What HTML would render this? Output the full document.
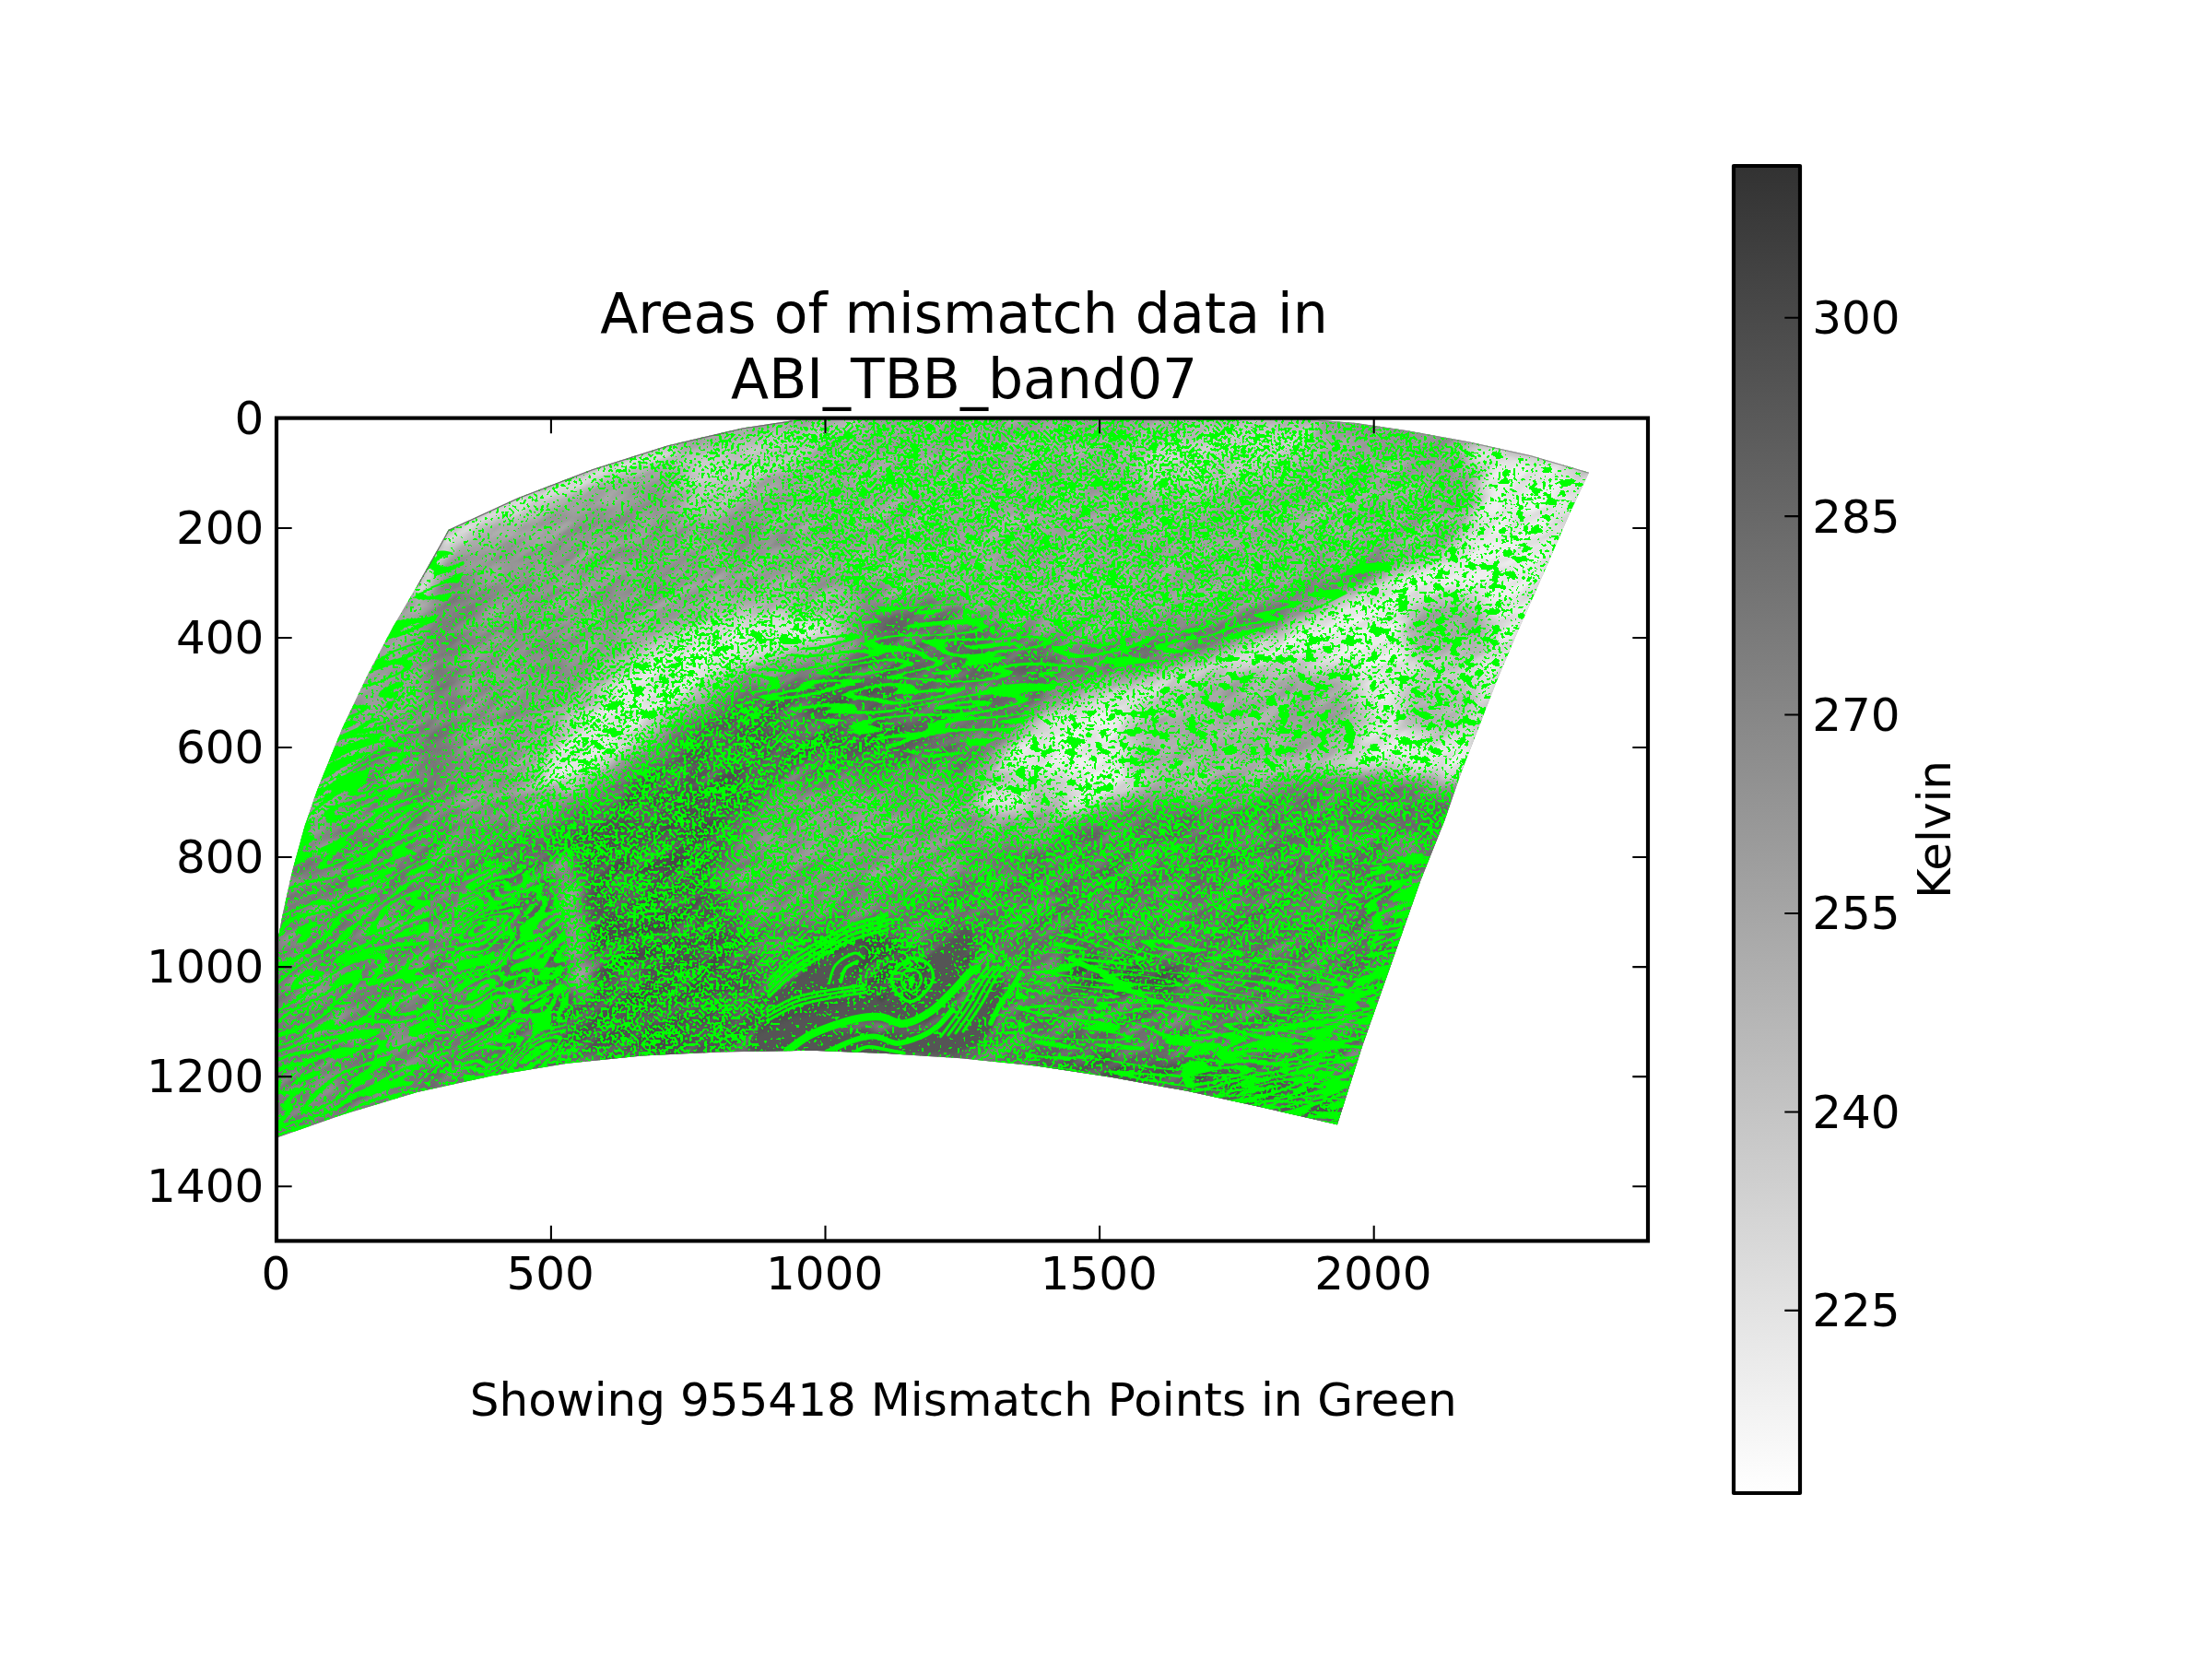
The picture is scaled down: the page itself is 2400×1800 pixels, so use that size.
<!DOCTYPE html>
<html lang="en"><head><meta charset="utf-8"><title>Areas of mismatch data in ABI_TBB_band07</title>
<style>
html,body{margin:0;padding:0;background:#fff;}
body{width:2400px;height:1800px;overflow:hidden;}
svg{display:block;}
text{font-family:"DejaVu Sans","Liberation Sans",sans-serif;fill:#000;}
.t{font-size:50px;}
.ti{font-size:60px;}
</style></head><body>
<svg width="2400" height="1800" viewBox="0 0 2400 1800">
<rect width="2400" height="1800" fill="#fff"/>
<defs>
<clipPath id="axc"><rect x="300.0" y="453.6" width="1488.0" height="892.8000000000001"/></clipPath>
<clipPath id="sw"><path d="M486.6 574.8L561.2 540.4L642.6 509.2L724.0 483.4L805.3 464.4L859.6 456.3L900.0 451.0L1400.0 451.0L1430.5 455.7L1471.2 459.0L1525.5 467.1L1593.3 479.3L1661.1 494.2L1724.0 512.7L1704.5 553.9L1685.5 597.3L1666.5 640.7L1644.8 689.5L1623.1 741.1L1604.1 789.9L1585.1 838.7L1567.5 890.0L1541.1 955.9L1507.3 1052.3L1478.4 1134.3L1450.9 1220.2L1368.2 1201.2L1286.8 1183.6L1205.5 1168.7L1124.1 1156.5L1042.7 1148.3L961.4 1142.9L880.0 1139.7L778.2 1141.6L696.8 1145.6L615.5 1153.8L534.1 1167.3L452.7 1185.0L371.4 1209.4L302.2 1233.8L290.0 1238.0L290.0 1060.0L302.2 1015.4L306.3 993.7L317.1 944.9L330.7 896.1L344.2 857.0L371.4 789.9L398.5 732.9L425.6 681.4L452.7 635.3L477.1 591.9Z"/></clipPath>
<filter id="b2" x="280" y="440" width="1480" height="820" filterUnits="userSpaceOnUse"><feGaussianBlur stdDeviation="2"/></filter>
<filter id="b5" x="280" y="440" width="1480" height="820" filterUnits="userSpaceOnUse"><feGaussianBlur stdDeviation="5"/></filter>
<filter id="b6" x="280" y="440" width="1480" height="820" filterUnits="userSpaceOnUse"><feGaussianBlur stdDeviation="6"/></filter>
<filter id="b8" x="280" y="440" width="1480" height="820" filterUnits="userSpaceOnUse"><feGaussianBlur stdDeviation="8"/></filter>
<filter id="b10" x="280" y="440" width="1480" height="820" filterUnits="userSpaceOnUse"><feGaussianBlur stdDeviation="10"/></filter>
<filter id="b12" x="280" y="440" width="1480" height="820" filterUnits="userSpaceOnUse"><feGaussianBlur stdDeviation="12"/></filter>
<filter id="b14" x="280" y="440" width="1480" height="820" filterUnits="userSpaceOnUse"><feGaussianBlur stdDeviation="14"/></filter>
<filter id="b16" x="280" y="440" width="1480" height="820" filterUnits="userSpaceOnUse"><feGaussianBlur stdDeviation="16"/></filter>
<filter id="b18" x="280" y="440" width="1480" height="820" filterUnits="userSpaceOnUse"><feGaussianBlur stdDeviation="18"/></filter>
<filter id="b22" x="280" y="440" width="1480" height="820" filterUnits="userSpaceOnUse"><feGaussianBlur stdDeviation="22"/></filter>
<filter id="b30" x="280" y="440" width="1480" height="820" filterUnits="userSpaceOnUse"><feGaussianBlur stdDeviation="30"/></filter>
<filter id="sp1" x="280" y="440" width="1480" height="820" filterUnits="userSpaceOnUse" color-interpolation-filters="sRGB">
<feGaussianBlur in="SourceGraphic" stdDeviation="9" result="sb"/>
<feColorMatrix in="sb" type="matrix" values="0 0 0 0 0  0 0 0 0 0  0 0 0 0 0  1 0 0 0 0" result="src"/>
<feTurbulence type="fractalNoise" baseFrequency="0.31" numOctaves="1" seed="5" result="n"/>
<feColorMatrix in="n" type="matrix" values="0 0 0 0 0  0 0 0 0 0  0 0 0 0 0  1 0 0 0 0" result="n1"/>
<feTurbulence type="fractalNoise" baseFrequency="0.035 0.06" numOctaves="2" seed="8" result="m"/>
<feColorMatrix in="m" type="matrix" values="0 0 0 0 0  0 0 0 0 0  0 0 0 0 0  1 0 0 0 0" result="m1"/>
<feComposite in="n1" in2="m1" operator="arithmetic" k1="0" k2="1" k3="0.3" k4="-0.15" result="nm"/>
<feComposite in="src" in2="nm" operator="arithmetic" k1="0" k2="1" k3="-1" k4="0" result="d"/>
<feComponentTransfer in="d" result="t"><feFuncA type="linear" slope="255" intercept="0"/></feComponentTransfer>
<feFlood flood-color="#00ff00" result="g"/>
<feComposite in="g" in2="t" operator="in"/>
</filter>
<filter id="tex" x="0" y="0" width="2100" height="1700" filterUnits="userSpaceOnUse" color-interpolation-filters="sRGB">
<feTurbulence type="fractalNoise" baseFrequency="0.02 0.07" numOctaves="2" seed="4" result="n"/>
<feColorMatrix in="n" type="matrix" values="0 0 0 0 1  0 0 0 0 1  0 0 0 0 1  2.5 0 0 0 -1.0" result="w"/>
<feComposite in="w" in2="SourceGraphic" operator="in"/>
</filter>
<filter id="texd" x="0" y="0" width="2100" height="1700" filterUnits="userSpaceOnUse" color-interpolation-filters="sRGB">
<feTurbulence type="fractalNoise" baseFrequency="0.025 0.07" numOctaves="2" seed="21" result="n"/>
<feColorMatrix in="n" type="matrix" values="0 0 0 0 0  0 0 0 0 0  0 0 0 0 0  2.5 0 0 0 -1.0" result="w"/>
<feComposite in="w" in2="SourceGraphic" operator="in"/>
</filter>
<filter id="sp2" x="280" y="440" width="1480" height="820" filterUnits="userSpaceOnUse" color-interpolation-filters="sRGB">
<feGaussianBlur in="SourceGraphic" stdDeviation="9" result="sb"/>
<feColorMatrix in="sb" type="matrix" values="0 0 0 0 0  0 0 0 0 0  0 0 0 0 0  1 0 0 0 0" result="src"/>
<feTurbulence type="fractalNoise" baseFrequency="0.07 0.1" numOctaves="3" seed="3" result="n"/>
<feColorMatrix in="n" type="matrix" values="0 0 0 0 0  0 0 0 0 0  0 0 0 0 0  1 0 0 0 0" result="n1"/>
<feComposite in="src" in2="n1" operator="arithmetic" k1="0" k2="1" k3="-1" k4="0" result="d"/>
<feComponentTransfer in="d" result="t"><feFuncA type="linear" slope="255" intercept="0"/></feComponentTransfer>
<feFlood flood-color="#00ff00" result="g"/>
<feComposite in="g" in2="t" operator="in"/>
</filter>
<clipPath id="bc0"><path d="M463.6 602.7C476.7 591.4 503.8 600.0 504.3 613.6C504.7 627.2 480.3 656.5 466.3 684.1C452.3 711.7 435.6 742.9 420.2 779.1C404.8 815.2 391.3 880.8 374.1 901.1C356.9 921.5 317.6 919.7 317.1 901.1C316.7 882.6 353.3 826.5 371.4 789.9C389.5 753.3 410.3 712.6 425.6 681.4C441.0 650.2 450.5 614.0 463.6 602.7Z"/></clipPath>
<filter id="bd0" x="-400" y="-400" width="2800" height="2400" filterUnits="userSpaceOnUse" color-interpolation-filters="sRGB">
<feTurbulence type="fractalNoise" baseFrequency="0.01 0.05" numOctaves="2" seed="3" result="n"/>
<feColorMatrix in="n" type="matrix" values="0 0 0 0 0  0 0 0 0 0  0 0 0 0 0  1 0 0 0 0" result="n1"/>
<feComponentTransfer in="n1" result="t"><feFuncA type="discrete" tableValues="0 0 1 0 0 1 0 0 1"/></feComponentTransfer>
<feFlood flood-color="#00ff00" result="g"/>
<feComposite in="g" in2="t" operator="in"/>
</filter>
<clipPath id="bc1"><path d="M276.9 815.0C296.1 738.1 361.4 776.6 392.1 784.3C422.9 791.9 449.1 822.7 461.3 861.1C473.5 899.5 466.4 963.6 465.1 1014.8C463.9 1066.1 485.0 1130.1 453.6 1168.5C422.2 1206.9 306.3 1304.3 276.9 1245.4C247.4 1186.5 257.6 891.9 276.9 815.0Z"/></clipPath>
<filter id="bd1" x="-400" y="-400" width="2800" height="2400" filterUnits="userSpaceOnUse" color-interpolation-filters="sRGB">
<feTurbulence type="fractalNoise" baseFrequency="0.008 0.035" numOctaves="2" seed="7" result="n"/>
<feColorMatrix in="n" type="matrix" values="0 0 0 0 0  0 0 0 0 0  0 0 0 0 0  1 0 0 0 0" result="n1"/>
<feComponentTransfer in="n1" result="t"><feFuncA type="discrete" tableValues="0 0 1 0 0 1 0 0 1 0 0 1 0 0 1 0 0 1"/></feComponentTransfer>
<feFlood flood-color="#00ff00" result="g"/>
<feComposite in="g" in2="t" operator="in"/>
</filter>
<clipPath id="bc2"><path d="M500.0 960.0C509.2 921.7 541.7 935.0 560.0 940.0C578.3 945.0 602.5 955.0 610.0 990.0C617.5 1025.0 622.5 1120.0 605.0 1150.0C587.5 1180.0 522.5 1201.7 505.0 1170.0C487.5 1138.3 490.8 998.3 500.0 960.0Z"/></clipPath>
<filter id="bd2" x="-400" y="-400" width="2800" height="2400" filterUnits="userSpaceOnUse" color-interpolation-filters="sRGB">
<feTurbulence type="fractalNoise" baseFrequency="0.012 0.03" numOctaves="2" seed="11" result="n"/>
<feColorMatrix in="n" type="matrix" values="0 0 0 0 0  0 0 0 0 0  0 0 0 0 0  1 0 0 0 0" result="n1"/>
<feComponentTransfer in="n1" result="t"><feFuncA type="discrete" tableValues="0 1 0 1 0 1 0 1 0 1 0 1 0 1 0 1 0 1 0 1"/></feComponentTransfer>
<feFlood flood-color="#00ff00" result="g"/>
<feComposite in="g" in2="t" operator="in"/>
</filter>
<clipPath id="bc3"><path d="M1483.2 946.3C1494.5 927.8 1542.7 918.1 1550.7 931.8C1558.8 945.5 1546.7 980.0 1531.4 1028.2C1516.2 1076.5 1497.7 1193.8 1459.1 1221.1C1420.5 1248.4 1326.5 1207.4 1300.0 1192.2C1273.5 1176.9 1279.9 1144.0 1300.0 1129.5C1320.1 1115.0 1390.0 1119.8 1420.5 1105.4C1451.1 1090.9 1472.8 1069.2 1483.2 1042.7C1493.7 1016.2 1472.0 964.8 1483.2 946.3Z"/></clipPath>
<filter id="bd3" x="-400" y="-400" width="2800" height="2400" filterUnits="userSpaceOnUse" color-interpolation-filters="sRGB">
<feTurbulence type="fractalNoise" baseFrequency="0.006 0.04" numOctaves="2" seed="13" result="n"/>
<feColorMatrix in="n" type="matrix" values="0 0 0 0 0  0 0 0 0 0  0 0 0 0 0  1 0 0 0 0" result="n1"/>
<feComponentTransfer in="n1" result="t"><feFuncA type="discrete" tableValues="0 1 0 1 0 1 0 1 0 1 0 1 0 1 0 1 0 1"/></feComponentTransfer>
<feFlood flood-color="#00ff00" result="g"/>
<feComposite in="g" in2="t" operator="in"/>
</filter>
<clipPath id="bc4"><path d="M858.0 711.0C878.3 699.0 898.8 680.0 926.0 670.0C953.2 660.0 991.5 648.7 1021.0 651.0C1050.5 653.3 1071.3 676.2 1103.0 684.0C1134.7 691.8 1169.8 701.7 1211.0 698.0C1252.2 694.3 1315.2 671.7 1350.0 662.0C1384.8 652.3 1395.0 650.3 1420.0 640.0C1445.0 629.7 1485.0 604.2 1500.0 600.0C1515.0 595.8 1521.7 605.0 1510.0 615.0C1498.3 625.0 1456.7 647.5 1430.0 660.0C1403.3 672.5 1377.5 680.8 1350.0 690.0C1322.5 699.2 1297.2 707.0 1265.0 715.0C1232.8 723.0 1184.0 725.5 1157.0 738.0C1130.0 750.5 1125.7 776.0 1103.0 790.0C1080.3 804.0 1048.2 820.3 1021.0 822.0C993.8 823.7 967.2 808.7 940.0 800.0C912.8 791.3 880.7 779.7 858.0 770.0C835.3 760.3 804.0 751.8 804.0 742.0C804.0 732.2 837.7 723.0 858.0 711.0Z"/></clipPath>
<filter id="bd4" x="-400" y="-400" width="2800" height="2400" filterUnits="userSpaceOnUse" color-interpolation-filters="sRGB">
<feTurbulence type="fractalNoise" baseFrequency="0.006 0.04" numOctaves="2" seed="17" result="n"/>
<feColorMatrix in="n" type="matrix" values="0 0 0 0 0  0 0 0 0 0  0 0 0 0 0  1 0 0 0 0" result="n1"/>
<feComponentTransfer in="n1" result="t"><feFuncA type="discrete" tableValues="0 0 1 0 0 1 0 0 1 0 0 1 0 0 1 0 0 1"/></feComponentTransfer>
<feFlood flood-color="#00ff00" result="g"/>
<feComposite in="g" in2="t" operator="in"/>
</filter>
<clipPath id="bc5"><path d="M1123.9 1022.0C1159.7 999.4 1276.4 1020.6 1338.7 1029.9C1401.1 1039.2 1478.0 1045.8 1497.9 1077.7C1517.8 1109.5 1497.9 1202.3 1458.1 1220.9C1418.3 1239.5 1314.9 1198.4 1259.2 1189.1C1203.4 1179.8 1146.4 1193.1 1123.9 1165.2C1101.3 1137.4 1088.1 1044.5 1123.9 1022.0Z"/></clipPath>
<filter id="bd5" x="-400" y="-400" width="2800" height="2400" filterUnits="userSpaceOnUse" color-interpolation-filters="sRGB">
<feTurbulence type="fractalNoise" baseFrequency="0.005 0.05" numOctaves="2" seed="23" result="n"/>
<feColorMatrix in="n" type="matrix" values="0 0 0 0 0  0 0 0 0 0  0 0 0 0 0  1 0 0 0 0" result="n1"/>
<feComponentTransfer in="n1" result="t"><feFuncA type="discrete" tableValues="0 0 0 1 0 0 0 1 0 0 0 1 0 0 0 1 0 0 0 1 0 0 0 1"/></feComponentTransfer>
<feFlood flood-color="#00ff00" result="g"/>
<feComposite in="g" in2="t" operator="in"/>
</filter>
</defs>
<g clip-path="url(#axc)"><g clip-path="url(#sw)">
<rect x="280" y="440" width="1480" height="820" fill="#929292"/>
<g filter="url(#b18)"><path d="M1100.0 791.2C1119.9 770.0 1179.6 794.5 1219.4 791.2C1259.2 787.9 1292.3 774.6 1338.7 771.3C1385.1 768.0 1454.8 764.7 1497.9 771.3C1541.0 777.9 1584.1 793.2 1597.4 811.1C1610.6 829.0 1600.7 867.5 1577.5 878.7C1554.3 890.0 1497.9 878.7 1458.1 878.7C1418.3 878.7 1378.5 877.4 1338.7 878.7C1298.9 880.1 1259.2 880.1 1219.4 886.7C1179.6 893.3 1119.9 934.4 1100.0 918.5C1080.1 902.6 1080.1 812.4 1100.0 791.2Z" fill="#989898"/></g>
<g filter="url(#b30)"><path d="M280.0 1000.0C283.3 941.7 289.2 955.0 300.0 930.0C310.8 905.0 325.0 866.7 345.0 850.0C365.0 833.3 390.8 830.0 420.0 830.0C449.2 830.0 490.0 843.3 520.0 850.0C550.0 856.7 573.3 875.0 600.0 870.0C626.7 865.0 653.3 838.3 680.0 820.0C706.7 801.7 733.3 776.7 760.0 760.0C786.7 743.3 816.7 730.0 840.0 720.0C863.3 710.0 880.0 705.0 900.0 700.0C920.0 695.0 935.0 680.0 960.0 690.0C985.0 700.0 1026.7 733.3 1050.0 760.0C1073.3 786.7 1075.0 831.7 1100.0 850.0C1125.0 868.3 1166.7 870.0 1200.0 870.0C1233.3 870.0 1258.3 855.0 1300.0 850.0C1341.7 845.0 1400.0 842.5 1450.0 840.0C1500.0 837.5 1568.3 825.0 1600.0 835.0C1631.7 845.0 1656.7 825.8 1640.0 900.0C1623.3 974.2 1726.7 1216.7 1500.0 1280.0C1273.3 1343.3 483.3 1326.7 280.0 1280.0C76.7 1233.3 276.7 1058.3 280.0 1000.0Z" fill="#686868"/><path d="M853.2 446.1C936.5 428.2 1237.5 434.6 1352.8 446.1C1468.1 457.6 1506.5 489.7 1544.9 515.3C1583.3 540.9 1615.4 576.8 1583.3 599.8C1551.3 622.9 1429.6 640.8 1352.8 653.6C1275.9 666.4 1192.7 680.5 1122.2 676.7C1051.8 672.8 974.9 651.1 930.1 630.6C885.3 610.1 866.1 584.4 853.2 553.7C840.4 523.0 770.0 464.0 853.2 446.1Z" fill="#9e9e9e"/><path d="M276.9 830.4C296.1 756.1 353.7 799.6 392.1 799.6C430.6 799.6 485.6 794.5 507.4 830.4C529.2 866.2 525.3 958.5 522.8 1014.8C520.2 1071.2 533.0 1130.1 492.0 1168.5C451.1 1206.9 312.7 1301.7 276.9 1245.4C241.0 1189.0 257.6 904.7 276.9 830.4Z" fill="#7a7a7a"/></g>
<g filter="url(#b16)"><path d="M476.7 630.6C485.0 612.6 510.6 619.0 515.1 638.2C519.6 657.5 510.0 708.7 503.6 745.8C497.2 783.0 485.0 829.1 476.7 861.1C468.3 893.1 462.6 925.2 453.6 938.0C444.6 950.8 424.2 950.8 422.9 938.0C421.6 925.2 438.9 893.1 445.9 861.1C453.0 829.1 460.0 784.3 465.1 745.8C470.3 707.4 468.3 648.5 476.7 630.6Z" fill="#747474"/></g>
<g filter="url(#b18)"><path d="M512.4 684.1C530.5 668.3 591.5 666.0 615.5 670.6C639.5 675.1 658.4 690.9 656.2 711.2C653.9 731.6 617.8 762.8 601.9 792.6C586.1 822.4 578.9 873.8 561.2 890.0C543.6 906.2 505.2 910.7 496.1 890.0C487.1 869.2 504.3 799.8 507.0 765.5C509.7 731.2 494.3 699.9 512.4 684.1Z" fill="#8c8c8c"/></g>
<g filter="url(#b12)"><path d="M858.0 711.0C878.3 699.0 898.8 680.0 926.0 670.0C953.2 660.0 991.5 648.7 1021.0 651.0C1050.5 653.3 1071.3 676.2 1103.0 684.0C1134.7 691.8 1169.8 701.7 1211.0 698.0C1252.2 694.3 1315.2 671.7 1350.0 662.0C1384.8 652.3 1395.0 650.3 1420.0 640.0C1445.0 629.7 1485.0 604.2 1500.0 600.0C1515.0 595.8 1521.7 605.0 1510.0 615.0C1498.3 625.0 1456.7 647.5 1430.0 660.0C1403.3 672.5 1377.5 680.8 1350.0 690.0C1322.5 699.2 1297.2 707.0 1265.0 715.0C1232.8 723.0 1184.0 725.5 1157.0 738.0C1130.0 750.5 1125.7 776.0 1103.0 790.0C1080.3 804.0 1048.2 820.3 1021.0 822.0C993.8 823.7 967.2 808.7 940.0 800.0C912.8 791.3 880.7 779.7 858.0 770.0C835.3 760.3 804.0 751.8 804.0 742.0C804.0 732.2 837.7 723.0 858.0 711.0Z" fill="#696969"/></g>
<g filter="url(#b18)"><path d="M656.2 846.9C678.8 826.5 721.7 798.0 751.1 779.1C780.5 760.1 809.3 744.2 832.5 732.9C855.6 721.6 867.4 712.6 890.0 711.2C912.6 709.9 950.6 706.7 968.1 724.8C985.7 742.9 1008.3 790.4 995.2 819.7C982.2 849.1 953.3 887.6 890.0 901.1C826.7 914.7 654.5 910.2 615.5 901.1C576.5 892.1 633.6 867.2 656.2 846.9Z" fill="#585858"/></g>
<g filter="url(#b22)"><path d="M630.4 861.1C652.1 830.4 707.2 830.4 738.0 830.4C768.7 830.4 803.3 830.4 814.8 861.1C826.3 891.9 807.1 968.7 807.1 1014.8C807.1 1060.9 844.3 1114.7 814.8 1137.8C785.4 1160.8 665.0 1173.6 630.4 1153.2C595.8 1132.7 607.3 1063.5 607.3 1014.8C607.3 966.1 608.6 891.9 630.4 861.1Z" fill="#505050"/></g>
<g filter="url(#b14)"><path d="M784.1 938.0C787.9 922.6 796.9 903.4 814.8 891.9C832.7 880.3 866.1 872.0 891.7 868.8C917.3 865.6 942.9 869.4 968.5 872.6C994.1 875.8 1024.9 878.4 1045.4 888.0C1065.9 897.6 1104.3 914.3 1091.5 930.3C1078.7 946.3 1008.2 971.9 968.5 984.1C928.8 996.2 882.7 1003.3 853.2 1003.3C823.8 1003.3 803.3 995.0 791.8 984.1C780.2 973.2 780.2 953.3 784.1 938.0Z" fill="#828282"/></g>
<g filter="url(#b22)"><path d="M1083.8 899.5C1115.8 850.9 1199.1 882.9 1275.9 876.5C1352.8 870.1 1493.7 850.9 1544.9 861.1C1596.1 871.4 1596.1 876.5 1583.3 938.0C1570.5 999.4 1551.3 1191.6 1468.1 1230.0C1384.8 1268.4 1147.8 1223.6 1083.8 1168.5C1019.8 1113.4 1051.8 948.2 1083.8 899.5Z" fill="#6a6a6a"/></g>
<g filter="url(#b10)"><path d="M1200.0 752.0C1230.7 740.7 1268.3 733.3 1300.0 722.0C1331.7 710.7 1354.7 700.3 1390.0 684.0C1425.3 667.7 1480.3 639.3 1512.0 624.0C1543.7 608.7 1564.2 609.2 1580.0 592.0C1595.8 574.8 1607.0 539.5 1607.0 521.0C1607.0 502.5 1574.5 486.5 1580.0 481.0C1585.5 475.5 1615.0 482.8 1640.0 488.0C1665.0 493.2 1718.3 500.3 1730.0 512.0C1741.7 523.7 1718.3 537.8 1710.0 558.0C1701.7 578.2 1690.0 609.3 1680.0 633.0C1670.0 656.7 1660.8 676.7 1650.0 700.0C1639.2 723.3 1625.0 748.8 1615.0 773.0C1605.0 797.2 1606.3 834.2 1590.0 845.0C1573.7 855.8 1541.2 839.5 1517.0 838.0C1492.8 836.5 1469.2 836.0 1445.0 836.0C1420.8 836.0 1396.2 836.5 1372.0 838.0C1347.8 839.5 1320.3 842.7 1300.0 845.0C1279.7 847.3 1270.0 846.2 1250.0 852.0C1230.0 857.8 1200.0 873.3 1180.0 880.0C1160.0 886.7 1146.7 890.3 1130.0 892.0C1113.3 893.7 1091.7 895.3 1080.0 890.0C1068.3 884.7 1054.0 876.7 1060.0 860.0C1066.0 843.3 1092.7 808.0 1116.0 790.0C1139.3 772.0 1169.3 763.3 1200.0 752.0Z" fill="#eeeeee"/></g>
<g filter="url(#b12)"><path d="M1539.1 657.0C1550.4 648.0 1595.6 648.0 1606.9 657.0C1618.2 666.0 1618.2 702.2 1606.9 711.2C1595.6 720.3 1550.4 720.3 1539.1 711.2C1527.8 702.2 1527.8 666.0 1539.1 657.0Z" fill="#aaaaaa"/><path d="M1525.5 738.4C1536.8 729.3 1582.0 729.3 1593.3 738.4C1604.6 747.4 1604.6 783.6 1593.3 792.6C1582.0 801.7 1536.8 801.7 1525.5 792.6C1514.2 783.6 1514.2 747.4 1525.5 738.4Z" fill="#b0b0b0"/><path d="M1281.4 779.1C1294.9 765.5 1367.3 749.7 1389.9 751.9C1412.5 754.2 1430.6 779.1 1417.0 792.6C1403.4 806.2 1331.1 835.6 1308.5 833.3C1285.9 831.0 1267.8 792.6 1281.4 779.1Z" fill="#b4b4b4"/></g>
<g filter="url(#b18)"><path d="M561.2 846.9C563.5 826.5 604.2 779.1 629.1 751.9C653.9 724.8 681.0 701.8 710.4 684.1C739.8 666.5 771.5 651.6 805.4 646.1C839.3 640.7 895.8 640.7 913.9 651.6C931.9 662.4 929.7 697.7 913.9 711.2C898.0 724.8 848.3 721.6 818.9 732.9C789.5 744.2 762.4 761.0 737.6 779.1C712.7 797.1 690.1 825.6 669.7 841.4C649.4 857.3 633.6 873.1 615.5 874.0C597.4 874.9 559.0 867.2 561.2 846.9Z" fill="#b0b0b0"/></g>
<g filter="url(#b8)"><path d="M588.4 833.3C592.9 821.1 611.0 799.4 629.1 779.1C647.1 758.7 674.3 728.0 696.9 711.2C719.5 694.5 742.1 686.4 764.7 678.7C787.3 671.0 811.6 665.6 832.5 665.1C853.4 664.7 876.4 672.8 890.0 676.0C903.6 679.1 913.9 680.5 913.9 684.1C913.9 687.7 905.8 692.7 890.0 697.7C874.2 702.7 842.1 704.9 818.9 714.0C795.8 723.0 773.7 736.6 751.1 751.9C728.5 767.3 703.6 790.4 683.3 806.2C663.0 822.0 642.6 839.2 629.1 846.9C615.5 854.6 608.7 854.6 601.9 852.3C595.2 850.0 583.8 845.5 588.4 833.3Z" fill="#e4e4e4"/></g>
<g filter="url(#b12)"><path d="M493.4 581.0C502.5 572.9 536.4 559.3 561.2 548.5C586.1 537.6 611.0 526.8 642.6 515.9C674.3 505.1 730.8 487.0 751.1 483.4C771.5 479.8 778.2 486.6 764.7 494.2C751.1 501.9 699.1 517.8 669.7 529.5C640.4 541.3 615.5 553.5 588.4 564.8C561.2 576.1 522.8 594.6 507.0 597.3C491.2 600.0 484.4 589.2 493.4 581.0Z" fill="#b8b8b8"/><path d="M750.0 488.8C774.9 471.6 867.5 463.5 899.2 459.0C930.8 454.5 939.4 458.5 939.9 461.7C940.3 464.9 920.0 468.0 901.9 478.0C883.8 487.9 856.7 507.4 831.4 521.4C806.1 535.4 763.6 567.5 750.0 562.1C736.4 556.6 725.1 506.0 750.0 488.8Z" fill="#c4c4c4"/><path d="M1238.2 480.7C1256.9 469.8 1318.3 459.4 1350.0 456.3C1381.6 453.1 1419.6 453.1 1428.1 461.7C1436.6 470.3 1423.6 496.5 1401.0 507.8C1378.4 519.1 1319.6 527.3 1292.5 529.5C1265.4 531.8 1247.3 529.5 1238.2 521.4C1229.2 513.2 1219.6 491.5 1238.2 480.7Z" fill="#cccccc"/><path d="M479.9 591.9C491.6 579.7 500.7 592.8 496.1 608.2C491.6 623.5 468.1 655.6 452.7 684.1C437.4 712.6 419.7 742.9 403.9 779.1C388.1 815.2 371.4 880.8 357.8 901.1C344.2 921.5 320.3 919.7 322.5 901.1C324.8 882.6 354.2 826.5 371.4 789.9C388.6 753.3 407.5 714.4 425.6 681.4C443.7 648.4 468.1 604.1 479.9 591.9Z" fill="#a2a2a2"/></g>
<g filter="url(#b18)"><path d="M852.9 850.0C900.3 838.7 1078.0 841.0 1124.1 850.0C1170.2 859.0 1147.6 890.7 1129.5 904.2C1111.5 917.8 1057.2 925.5 1015.6 931.4C974.0 937.3 909.4 941.8 880.0 939.5C850.6 937.3 843.8 932.7 839.3 917.8C834.8 902.9 805.4 861.3 852.9 850.0Z" fill="#909090"/></g>
<g filter="url(#b8)"><path d="M1067.2 858.1C1074.4 854.3 1105.1 853.6 1113.3 856.8C1121.4 859.9 1123.2 873.3 1116.0 877.1C1108.8 881.0 1078.0 883.0 1069.9 879.8C1061.7 876.7 1059.9 862.0 1067.2 858.1Z" fill="#e6e6e6"/><path d="M601.9 944.9C602.4 923.2 616.9 921.9 623.6 942.2C630.4 962.6 643.1 1045.3 642.6 1067.0C642.2 1088.7 627.7 1092.8 620.9 1072.4C614.1 1052.1 601.5 966.6 601.9 944.9Z" fill="#929292"/></g>
<g filter="url(#b6)"><path d="M880.0 1026.3C891.3 1010.5 925.2 1011.4 947.8 1012.7C970.4 1014.1 998.9 1035.4 1015.6 1034.4C1032.3 1033.5 1041.4 1006.4 1048.2 1007.3C1055.0 1008.2 1059.0 1025.4 1056.3 1039.9C1053.6 1054.3 1043.2 1082.4 1031.9 1094.1C1020.6 1105.9 1007.0 1110.4 988.5 1110.4C970.0 1110.4 938.8 1094.6 920.7 1094.1C902.6 1093.7 886.8 1119.0 880.0 1107.7C873.2 1096.4 868.7 1042.1 880.0 1026.3Z" fill="#4e4e4e"/><path d="M880.0 1121.2C893.6 1117.9 938.8 1120.3 961.4 1121.2C984.0 1122.1 1002.1 1124.0 1015.6 1126.7C1029.2 1129.4 1065.4 1135.0 1042.7 1137.5C1020.1 1140.0 907.1 1144.3 880.0 1141.6C852.9 1138.9 866.4 1124.6 880.0 1121.2Z" fill="#4e4e4e"/></g>
<g filter="url(#b14)"><path d="M1291.0 739.5C1317.5 725.5 1428.9 718.9 1458.1 731.5C1487.3 744.1 1479.3 798.5 1466.1 815.1C1452.8 831.6 1406.4 831.0 1378.5 831.0C1350.7 831.0 1313.5 830.3 1298.9 815.1C1284.4 799.8 1264.5 753.4 1291.0 739.5Z" fill="#9c9c9c"/></g>
<g filter="url(#b10)"><path d="M1532.6 663.8C1542.1 655.3 1581.9 653.3 1592.3 660.8C1602.8 668.3 1604.7 700.1 1595.3 708.5C1585.9 717.0 1546.1 719.0 1535.6 711.5C1525.2 704.1 1523.2 672.2 1532.6 663.8Z" fill="#a4a4a4"/></g>
<g filter="url(#b12)"><path d="M1234.3 768.2C1254.2 749.8 1343.7 740.9 1368.5 753.3C1393.4 765.7 1403.3 824.4 1383.5 842.8C1363.6 861.2 1274.1 876.1 1249.2 863.7C1224.3 851.3 1214.4 786.6 1234.3 768.2Z" fill="#a8a8a8"/></g>
<g filter="url(#b10)"><path d="M1139.8 1145.3C1166.3 1143.3 1245.9 1150.0 1298.9 1157.2C1352.0 1164.5 1432.9 1178.5 1458.1 1189.1C1483.3 1199.7 1476.7 1220.9 1450.1 1220.9C1423.6 1220.9 1350.7 1197.7 1298.9 1189.1C1247.2 1180.5 1166.3 1176.5 1139.8 1169.2C1113.3 1161.9 1113.3 1147.3 1139.8 1145.3Z" fill="#505050"/></g>
<g filter="url(#b8)"><path d="M1159.7 1037.9C1175.6 1033.9 1247.2 1039.2 1267.1 1045.8C1287.0 1052.5 1295.0 1073.7 1279.0 1077.7C1263.1 1081.7 1191.5 1076.3 1171.6 1069.7C1151.7 1063.1 1143.8 1041.9 1159.7 1037.9Z" fill="#505050"/></g>
<g filter="url(#b5)"><path d="M488.0 575.6C502.0 566.7 535.5 551.8 561.2 540.9C587.0 530.0 615.5 519.3 642.6 510.0C669.7 500.6 710.0 487.4 724.0 484.8C738.0 482.1 739.4 488.1 726.7 494.2C714.0 500.4 674.7 511.4 648.0 521.4C621.4 531.3 590.6 543.1 566.7 553.9C542.7 564.8 518.8 577.4 504.3 586.5C489.8 595.5 487.6 598.2 479.9 608.2C472.2 618.1 463.1 640.7 458.2 646.1C453.2 651.6 446.9 649.3 450.0 640.7C453.2 632.1 470.8 605.5 477.2 594.6C483.5 583.8 474.0 584.6 488.0 575.6Z" fill="#e2e2e2"/></g>
<g transform="rotate(-30 1044 850)"><g filter="url(#tex)" opacity="0.18"><rect x="0" y="0" width="2100" height="1700" fill="#fff"/></g></g>
<g transform="rotate(-30 1044 850)"><g filter="url(#texd)" opacity="0.1"><rect x="0" y="0" width="2100" height="1700" fill="#000"/></g></g>
<path d="M818.9 1121.2C825.7 1109.0 847.8 1079.7 859.6 1067.0C871.5 1054.3 881.0 1045.3 890.0 1045.3C899.0 1045.3 913.9 1051.2 913.9 1067.0C913.9 1082.8 905.8 1128.0 890.0 1140.2C874.2 1152.4 830.8 1143.4 818.9 1140.2C807.1 1137.1 812.1 1133.5 818.9 1121.2Z" fill="#505050" filter="url(#b2)"/>
<path d="M836.2 1081.3C840.7 1075.2 861.5 1062.9 872.3 1055.9C883.2 1049.0 891.6 1044.8 901.3 1039.7C910.9 1034.6 923.9 1026.1 930.2 1025.2C936.5 1024.3 939.8 1029.1 939.2 1034.2C938.6 1039.4 926.9 1050.5 926.6 1055.9C926.3 1061.4 941.7 1063.8 937.4 1066.8C933.2 1069.8 912.1 1071.6 901.3 1074.0C890.4 1076.4 881.7 1078.3 872.3 1081.3C863.0 1084.3 851.2 1092.1 845.2 1092.1C839.2 1092.1 831.6 1087.3 836.2 1081.3Z" fill="#545454" filter="url(#b2)"/>
<path d="M818.1 1124.7C824.1 1119.2 842.2 1111.4 854.2 1106.6C866.3 1101.8 875.3 1100.0 890.4 1095.7C905.5 1091.5 932.6 1081.9 944.7 1081.3C956.7 1080.7 958.5 1092.1 962.7 1092.1C967.0 1092.1 965.8 1081.9 970.0 1081.3C974.2 1080.7 980.8 1092.1 988.1 1088.5C995.3 1084.9 1010.4 1067.7 1013.4 1059.6C1016.4 1051.4 1002.5 1046.9 1006.1 1039.7C1009.8 1032.4 1027.5 1021.6 1035.1 1016.2C1042.6 1010.7 1048.9 1004.1 1051.4 1007.1C1053.8 1010.1 1051.1 1028.8 1049.5 1034.2C1048.0 1039.7 1042.6 1036.1 1042.3 1039.7C1042.0 1043.3 1052.0 1047.8 1047.7 1055.9C1043.5 1064.1 1026.6 1079.5 1017.0 1088.5C1007.4 1097.5 998.9 1106.6 989.9 1110.2C980.8 1113.8 973.3 1111.1 962.7 1110.2C952.2 1109.3 940.1 1103.3 926.6 1104.8C913.0 1106.3 893.4 1113.5 881.4 1119.2C869.3 1125.0 864.8 1135.8 854.2 1139.1C843.7 1142.4 824.1 1141.5 818.1 1139.1C812.1 1136.7 812.1 1130.1 818.1 1124.7Z" fill="#545454" filter="url(#b2)"/>
<path d="M854.2 1140.9C839.2 1136.7 905.5 1120.1 926.6 1117.4C947.7 1114.7 962.7 1128.0 980.8 1124.7C998.9 1121.4 1020.0 1108.1 1035.1 1097.5C1050.2 1087.0 1062.2 1065.9 1071.2 1061.4C1080.3 1056.9 1089.3 1059.9 1089.3 1070.4C1089.3 1081.0 1083.3 1112.6 1071.2 1124.7C1059.2 1136.7 1053.2 1140.0 1017.0 1142.7C980.8 1145.5 869.3 1145.2 854.2 1140.9Z" fill="#545454" filter="url(#b2)"/>
<g filter="url(#sp1)">
<path d="M280.0 440.0L1760.0 440.0L1760.0 1260.0L280.0 1260.0Z" fill="#767676"/>
<path d="M280.0 1000.0C283.3 941.7 289.2 955.0 300.0 930.0C310.8 905.0 325.0 866.7 345.0 850.0C365.0 833.3 390.8 830.0 420.0 830.0C449.2 830.0 490.0 843.3 520.0 850.0C550.0 856.7 573.3 875.0 600.0 870.0C626.7 865.0 653.3 838.3 680.0 820.0C706.7 801.7 733.3 776.7 760.0 760.0C786.7 743.3 816.7 730.0 840.0 720.0C863.3 710.0 880.0 705.0 900.0 700.0C920.0 695.0 935.0 680.0 960.0 690.0C985.0 700.0 1026.7 733.3 1050.0 760.0C1073.3 786.7 1075.0 831.7 1100.0 850.0C1125.0 868.3 1166.7 870.0 1200.0 870.0C1233.3 870.0 1258.3 855.0 1300.0 850.0C1341.7 845.0 1400.0 842.5 1450.0 840.0C1500.0 837.5 1568.3 825.0 1600.0 835.0C1631.7 845.0 1656.7 825.8 1640.0 900.0C1623.3 974.2 1726.7 1216.7 1500.0 1280.0C1273.3 1343.3 483.3 1326.7 280.0 1280.0C76.7 1233.3 276.7 1058.3 280.0 1000.0Z" fill="#7c7c7c"/>
<path d="M479.9 591.9C496.1 573.8 534.1 561.2 561.2 548.5C588.4 535.8 606.5 528.2 642.6 515.9C678.8 503.7 739.8 485.2 778.2 475.3C816.7 465.3 854.6 444.1 873.2 456.3C891.8 468.5 896.8 515.0 890.0 548.5C883.2 582.0 864.7 632.1 832.5 657.0C800.3 681.9 733.0 679.6 696.9 697.7C660.7 715.8 638.1 733.4 615.5 765.5C592.9 797.5 588.4 869.2 561.2 890.0C534.1 910.7 469.9 919.8 452.7 890.0C435.6 860.2 456.4 750.1 458.2 711.2C460.0 672.4 460.0 676.9 463.6 657.0C467.2 637.1 463.6 610.0 479.9 591.9Z" fill="#707070"/>
<path d="M479.9 591.9C491.6 579.7 500.7 592.8 496.1 608.2C491.6 623.5 468.1 655.6 452.7 684.1C437.4 712.6 419.7 742.9 403.9 779.1C388.1 815.2 371.4 880.8 357.8 901.1C344.2 921.5 320.3 919.7 322.5 901.1C324.8 882.6 354.2 826.5 371.4 789.9C388.6 753.3 407.5 714.4 425.6 681.4C443.7 648.4 468.1 604.1 479.9 591.9Z" fill="#5f5f5f"/>
<path d="M276.9 815.0C296.1 738.1 361.4 776.6 392.1 784.3C422.9 791.9 449.1 822.7 461.3 861.1C473.5 899.5 466.4 963.6 465.1 1014.8C463.9 1066.1 485.0 1130.1 453.6 1168.5C422.2 1206.9 306.3 1304.3 276.9 1245.4C247.4 1186.5 257.6 891.9 276.9 815.0Z" fill="#6b6b6b"/>
<path d="M476.7 630.6C485.0 612.6 510.6 619.0 515.1 638.2C519.6 657.5 510.0 708.7 503.6 745.8C497.2 783.0 485.0 829.1 476.7 861.1C468.3 893.1 462.6 925.2 453.6 938.0C444.6 950.8 424.2 950.8 422.9 938.0C421.6 925.2 438.9 893.1 445.9 861.1C453.0 829.1 460.0 784.3 465.1 745.8C470.3 707.4 468.3 648.5 476.7 630.6Z" fill="#646464"/>
<path d="M891.7 457.6C968.5 435.2 1250.3 448.0 1352.8 457.6C1455.3 467.2 1468.1 492.9 1506.5 515.3C1544.9 537.7 1596.1 570.4 1583.3 592.1C1570.5 613.9 1493.7 626.7 1429.6 645.9C1365.6 665.1 1275.9 706.1 1199.1 707.4C1122.2 708.7 1019.8 672.8 968.5 653.6C917.3 634.4 904.5 624.8 891.7 592.1C878.9 559.5 814.8 480.1 891.7 457.6Z" fill="#7b7b7b"/>
<path d="M1200.0 752.0C1230.7 740.7 1268.3 733.3 1300.0 722.0C1331.7 710.7 1354.7 700.3 1390.0 684.0C1425.3 667.7 1480.3 639.3 1512.0 624.0C1543.7 608.7 1564.2 609.2 1580.0 592.0C1595.8 574.8 1607.0 539.5 1607.0 521.0C1607.0 502.5 1574.5 486.5 1580.0 481.0C1585.5 475.5 1615.0 482.8 1640.0 488.0C1665.0 493.2 1718.3 500.3 1730.0 512.0C1741.7 523.7 1718.3 537.8 1710.0 558.0C1701.7 578.2 1690.0 609.3 1680.0 633.0C1670.0 656.7 1660.8 676.7 1650.0 700.0C1639.2 723.3 1625.0 748.8 1615.0 773.0C1605.0 797.2 1606.3 834.2 1590.0 845.0C1573.7 855.8 1541.2 839.5 1517.0 838.0C1492.8 836.5 1469.2 836.0 1445.0 836.0C1420.8 836.0 1396.2 836.5 1372.0 838.0C1347.8 839.5 1320.3 842.7 1300.0 845.0C1279.7 847.3 1270.0 846.2 1250.0 852.0C1230.0 857.8 1200.0 873.3 1180.0 880.0C1160.0 886.7 1146.7 890.3 1130.0 892.0C1113.3 893.7 1091.7 895.3 1080.0 890.0C1068.3 884.7 1054.0 876.7 1060.0 860.0C1066.0 843.3 1092.7 808.0 1116.0 790.0C1139.3 772.0 1169.3 763.3 1200.0 752.0Z" fill="#636363"/>
<path d="M588.4 833.3C592.9 821.1 611.0 799.4 629.1 779.1C647.1 758.7 674.3 728.0 696.9 711.2C719.5 694.5 742.1 686.4 764.7 678.7C787.3 671.0 811.6 665.6 832.5 665.1C853.4 664.7 876.4 672.8 890.0 676.0C903.6 679.1 913.9 680.5 913.9 684.1C913.9 687.7 905.8 692.7 890.0 697.7C874.2 702.7 842.1 704.9 818.9 714.0C795.8 723.0 773.7 736.6 751.1 751.9C728.5 767.3 703.6 790.4 683.3 806.2C663.0 822.0 642.6 839.2 629.1 846.9C615.5 854.6 608.7 854.6 601.9 852.3C595.2 850.0 583.8 845.5 588.4 833.3Z" fill="#727272"/>
<path d="M858.0 711.0C878.3 699.0 898.8 680.0 926.0 670.0C953.2 660.0 991.5 648.7 1021.0 651.0C1050.5 653.3 1071.3 676.2 1103.0 684.0C1134.7 691.8 1169.8 701.7 1211.0 698.0C1252.2 694.3 1315.2 671.7 1350.0 662.0C1384.8 652.3 1395.0 650.3 1420.0 640.0C1445.0 629.7 1485.0 604.2 1500.0 600.0C1515.0 595.8 1521.7 605.0 1510.0 615.0C1498.3 625.0 1456.7 647.5 1430.0 660.0C1403.3 672.5 1377.5 680.8 1350.0 690.0C1322.5 699.2 1297.2 707.0 1265.0 715.0C1232.8 723.0 1184.0 725.5 1157.0 738.0C1130.0 750.5 1125.7 776.0 1103.0 790.0C1080.3 804.0 1048.2 820.3 1021.0 822.0C993.8 823.7 967.2 808.7 940.0 800.0C912.8 791.3 880.7 779.7 858.0 770.0C835.3 760.3 804.0 751.8 804.0 742.0C804.0 732.2 837.7 723.0 858.0 711.0Z" fill="#636363"/>
<path d="M784.1 938.0C787.9 922.6 796.9 903.4 814.8 891.9C832.7 880.3 866.1 872.0 891.7 868.8C917.3 865.6 942.9 869.4 968.5 872.6C994.1 875.8 1024.9 878.4 1045.4 888.0C1065.9 897.6 1104.3 914.3 1091.5 930.3C1078.7 946.3 1008.2 971.9 968.5 984.1C928.8 996.2 882.7 1003.3 853.2 1003.3C823.8 1003.3 803.3 995.0 791.8 984.1C780.2 973.2 780.2 953.3 784.1 938.0Z" fill="#777777"/>
<path d="M500.0 960.0C509.2 921.7 541.7 935.0 560.0 940.0C578.3 945.0 602.5 955.0 610.0 990.0C617.5 1025.0 622.5 1120.0 605.0 1150.0C587.5 1180.0 522.5 1201.7 505.0 1170.0C487.5 1138.3 490.8 998.3 500.0 960.0Z" fill="#6d6d6d"/>
<path d="M1483.2 946.3C1494.5 927.8 1542.7 918.1 1550.7 931.8C1558.8 945.5 1546.7 980.0 1531.4 1028.2C1516.2 1076.5 1497.7 1193.8 1459.1 1221.1C1420.5 1248.4 1326.5 1207.4 1300.0 1192.2C1273.5 1176.9 1279.9 1144.0 1300.0 1129.5C1320.1 1115.0 1390.0 1119.8 1420.5 1105.4C1451.1 1090.9 1472.8 1069.2 1483.2 1042.7C1493.7 1016.2 1472.0 964.8 1483.2 946.3Z" fill="#6d6d6d"/>
<path d="M836.2 1081.3C840.7 1075.2 861.5 1062.9 872.3 1055.9C883.2 1049.0 891.6 1044.8 901.3 1039.7C910.9 1034.6 923.9 1026.1 930.2 1025.2C936.5 1024.3 939.8 1029.1 939.2 1034.2C938.6 1039.4 926.9 1050.5 926.6 1055.9C926.3 1061.4 941.7 1063.8 937.4 1066.8C933.2 1069.8 912.1 1071.6 901.3 1074.0C890.4 1076.4 881.7 1078.3 872.3 1081.3C863.0 1084.3 851.2 1092.1 845.2 1092.1C839.2 1092.1 831.6 1087.3 836.2 1081.3Z" fill="#4f4f4f"/>
<path d="M818.1 1124.7C824.1 1119.2 842.2 1111.4 854.2 1106.6C866.3 1101.8 875.3 1100.0 890.4 1095.7C905.5 1091.5 932.6 1081.9 944.7 1081.3C956.7 1080.7 958.5 1092.1 962.7 1092.1C967.0 1092.1 965.8 1081.9 970.0 1081.3C974.2 1080.7 980.8 1092.1 988.1 1088.5C995.3 1084.9 1010.4 1067.7 1013.4 1059.6C1016.4 1051.4 1002.5 1046.9 1006.1 1039.7C1009.8 1032.4 1027.5 1021.6 1035.1 1016.2C1042.6 1010.7 1048.9 1004.1 1051.4 1007.1C1053.8 1010.1 1051.1 1028.8 1049.5 1034.2C1048.0 1039.7 1042.6 1036.1 1042.3 1039.7C1042.0 1043.3 1052.0 1047.8 1047.7 1055.9C1043.5 1064.1 1026.6 1079.5 1017.0 1088.5C1007.4 1097.5 998.9 1106.6 989.9 1110.2C980.8 1113.8 973.3 1111.1 962.7 1110.2C952.2 1109.3 940.1 1103.3 926.6 1104.8C913.0 1106.3 893.4 1113.5 881.4 1119.2C869.3 1125.0 864.8 1135.8 854.2 1139.1C843.7 1142.4 824.1 1141.5 818.1 1139.1C812.1 1136.7 812.1 1130.1 818.1 1124.7Z" fill="#4f4f4f"/>
<path d="M854.2 1140.9C839.2 1136.7 905.5 1120.1 926.6 1117.4C947.7 1114.7 962.7 1128.0 980.8 1124.7C998.9 1121.4 1020.0 1108.1 1035.1 1097.5C1050.2 1087.0 1063.4 1065.9 1071.2 1061.4C1079.1 1056.9 1083.6 1059.9 1082.1 1070.4C1080.6 1081.0 1073.1 1112.6 1062.2 1124.7C1051.4 1136.7 1051.7 1140.0 1017.0 1142.7C982.3 1145.5 869.3 1145.2 854.2 1140.9Z" fill="#4f4f4f"/>
<path d="M1593.3 480.7C1611.5 479.2 1708.2 494.2 1724.0 512.7C1739.9 531.2 1703.3 572.4 1688.2 591.9C1673.2 611.4 1646.2 636.2 1634.0 629.9C1621.8 623.5 1618.2 572.0 1615.0 553.9C1611.8 535.8 1618.6 533.6 1615.0 521.4C1611.4 509.2 1575.1 482.1 1593.3 480.7Z" fill="#5f5f5f"/>
<path d="M1123.9 1022.0C1159.7 999.4 1276.4 1020.6 1338.7 1029.9C1401.1 1039.2 1478.0 1045.8 1497.9 1077.7C1517.8 1109.5 1497.9 1202.3 1458.1 1220.9C1418.3 1239.5 1314.9 1198.4 1259.2 1189.1C1203.4 1179.8 1146.4 1193.1 1123.9 1165.2C1101.3 1137.4 1088.1 1044.5 1123.9 1022.0Z" fill="#6d6d6d"/>
<path d="M466.3 581.0C482.6 568.8 527.3 555.3 561.2 543.1C595.2 530.9 647.1 506.0 669.7 507.8C692.3 509.6 705.9 537.2 696.9 553.9C687.8 570.6 642.6 591.0 615.5 608.2C588.4 625.4 555.8 648.0 534.1 657.0C512.4 666.0 497.1 669.2 485.3 662.4C473.5 655.6 466.8 629.9 463.6 616.3C460.4 602.7 450.0 593.3 466.3 581.0Z" fill="#606060"/>
</g>
<g filter="url(#sp2)">
<path d="M280.0 440.0L1760.0 440.0L1760.0 1260.0L280.0 1260.0Z" fill="#333333"/>
<path d="M1200.0 752.0C1230.7 740.7 1268.3 733.3 1300.0 722.0C1331.7 710.7 1354.7 700.3 1390.0 684.0C1425.3 667.7 1480.3 639.3 1512.0 624.0C1543.7 608.7 1564.2 609.2 1580.0 592.0C1595.8 574.8 1607.0 539.5 1607.0 521.0C1607.0 502.5 1574.5 486.5 1580.0 481.0C1585.5 475.5 1615.0 482.8 1640.0 488.0C1665.0 493.2 1718.3 500.3 1730.0 512.0C1741.7 523.7 1718.3 537.8 1710.0 558.0C1701.7 578.2 1690.0 609.3 1680.0 633.0C1670.0 656.7 1660.8 676.7 1650.0 700.0C1639.2 723.3 1625.0 748.8 1615.0 773.0C1605.0 797.2 1606.3 834.2 1590.0 845.0C1573.7 855.8 1541.2 839.5 1517.0 838.0C1492.8 836.5 1469.2 836.0 1445.0 836.0C1420.8 836.0 1396.2 836.5 1372.0 838.0C1347.8 839.5 1320.3 842.7 1300.0 845.0C1279.7 847.3 1270.0 846.2 1250.0 852.0C1230.0 857.8 1200.0 873.3 1180.0 880.0C1160.0 886.7 1146.7 890.3 1130.0 892.0C1113.3 893.7 1091.7 895.3 1080.0 890.0C1068.3 884.7 1054.0 876.7 1060.0 860.0C1066.0 843.3 1092.7 808.0 1116.0 790.0C1139.3 772.0 1169.3 763.3 1200.0 752.0Z" fill="#666666"/>
<path d="M588.4 833.3C592.9 821.1 611.0 799.4 629.1 779.1C647.1 758.7 674.3 728.0 696.9 711.2C719.5 694.5 742.1 686.4 764.7 678.7C787.3 671.0 811.6 665.6 832.5 665.1C853.4 664.7 876.4 672.8 890.0 676.0C903.6 679.1 913.9 680.5 913.9 684.1C913.9 687.7 905.8 692.7 890.0 697.7C874.2 702.7 842.1 704.9 818.9 714.0C795.8 723.0 773.7 736.6 751.1 751.9C728.5 767.3 703.6 790.4 683.3 806.2C663.0 822.0 642.6 839.2 629.1 846.9C615.5 854.6 608.7 854.6 601.9 852.3C595.2 850.0 583.8 845.5 588.4 833.3Z" fill="#646464"/>
<path d="M891.7 457.6C1006.9 441.0 1464.2 469.8 1583.3 492.2C1702.5 514.6 1632.0 565.2 1606.4 592.1C1580.8 619.0 1497.5 631.8 1429.6 653.6C1361.7 675.4 1275.9 722.8 1199.1 722.8C1122.2 722.8 1019.8 675.4 968.5 653.6C917.3 631.8 904.5 624.8 891.7 592.1C878.9 559.5 776.4 474.3 891.7 457.6Z" fill="#545454"/>
</g>
<g clip-path="url(#bc0)"><g transform="rotate(-20 418 744)"><rect x="-282" y="44" width="1400" height="1400" filter="url(#bd0)"/></g></g>
<g clip-path="url(#bc1)"><g transform="rotate(-24 388 982)"><rect x="-312" y="282" width="1400" height="1400" filter="url(#bd1)"/></g></g>
<g clip-path="url(#bc2)"><g transform="rotate(-30 556 1042)"><rect x="-144" y="342" width="1400" height="1400" filter="url(#bd2)"/></g></g>
<g clip-path="url(#bc3)"><g transform="rotate(-12 1441 1075)"><rect x="741" y="375" width="1400" height="1400" filter="url(#bd3)"/></g></g>
<g clip-path="url(#bc4)"><g transform="rotate(-5 1157 703)"><rect x="457" y="3" width="1400" height="1400" filter="url(#bd4)"/></g></g>
<g clip-path="url(#bc5)"><g transform="rotate(6 1300 1117)"><rect x="600" y="417" width="1400" height="1400" filter="url(#bd5)"/></g></g>
<g fill="#00ff00" stroke="#00ff00" stroke-linecap="round" stroke-linejoin="round"><path d="M854.2 1140.0C857.9 1137.5 868.1 1129.0 875.9 1124.7C883.8 1120.3 892.2 1117.1 901.3 1113.8C910.3 1110.6 921.2 1106.9 930.2 1105.1C939.2 1103.4 947.1 1102.4 955.5 1103.3C964.0 1104.2 971.8 1111.5 980.8 1110.6C989.9 1109.6 1000.7 1103.6 1009.8 1097.5C1018.8 1091.5 1028.1 1081.0 1035.1 1074.0C1042.0 1067.1 1047.1 1059.9 1051.4 1055.9C1055.6 1052.0 1058.9 1051.4 1060.4 1050.5" fill="none" stroke-width="8.5"/><path d="M897.6 1141.3C902.5 1139.2 917.8 1131.4 926.6 1128.6C935.3 1125.9 942.3 1124.1 950.1 1124.7C957.9 1125.2 965.5 1131.9 973.6 1131.9C981.7 1131.9 991.7 1127.7 998.9 1124.7C1006.1 1121.7 1011.3 1118.6 1017.0 1113.8C1022.7 1109.0 1030.6 1098.7 1033.3 1095.7" fill="none" stroke-width="6"/><path d="M926.6 1141.8C929.0 1140.8 935.0 1136.3 941.0 1135.9C947.1 1135.4 956.1 1138.0 962.7 1139.1C969.4 1140.3 977.8 1142.1 980.8 1142.7" fill="none" stroke-width="4"/><path d="M832.5 1097.5C837.7 1095.0 852.1 1086.0 863.3 1082.2C874.4 1078.3 886.8 1076.6 899.5 1074.4C912.1 1072.2 932.6 1069.9 939.2 1069.0" fill="none" stroke-width="2.8"/><path d="M832.5 1102.6C837.7 1100.0 852.1 1090.8 863.3 1086.9C874.4 1082.9 886.8 1081.1 899.5 1078.7C912.1 1076.4 932.6 1073.9 939.2 1072.9" fill="none" stroke-width="2.8"/><path d="M832.5 1107.7C837.7 1105.0 852.1 1095.7 863.3 1091.6C874.4 1087.5 886.8 1085.5 899.5 1083.1C912.1 1080.6 932.6 1078.0 939.2 1076.9" fill="none" stroke-width="2.8"/><path d="M834.4 1081.3C838.6 1077.3 849.7 1065.3 859.7 1057.8C869.6 1050.2 882.9 1042.5 894.0 1036.1C905.2 1029.6 915.1 1023.4 926.6 1018.9C938.0 1014.4 956.7 1010.6 962.7 1008.9" fill="none" stroke-width="3.4"/><path d="M834.4 1075.1C838.6 1071.2 849.7 1059.1 859.7 1051.6C869.6 1044.1 882.9 1036.6 894.0 1030.3C905.2 1023.9 915.1 1017.9 926.6 1013.5C938.0 1009.1 956.7 1005.5 962.7 1003.9" fill="none" stroke-width="3.4"/><path d="M834.4 1069.0C838.6 1065.1 849.7 1052.9 859.7 1045.5C869.6 1038.0 882.9 1030.7 894.0 1024.5C905.2 1018.2 915.1 1012.3 926.6 1008.0C938.0 1003.7 956.7 1000.3 962.7 998.8" fill="none" stroke-width="3.4"/><path d="M834.4 1062.8C838.6 1058.9 849.7 1046.7 859.7 1039.3C869.6 1032.0 882.9 1024.8 894.0 1018.7C905.2 1012.6 915.1 1006.8 926.6 1002.6C938.0 998.4 956.7 995.2 962.7 993.7" fill="none" stroke-width="3.4"/><path d="M899.5 1066.8C900.7 1063.5 902.2 1052.3 906.7 1046.9C911.2 1041.5 921.5 1035.5 926.6 1034.2C931.7 1033.0 935.6 1038.8 937.4 1039.7" fill="none" stroke-width="3"/><path d="M912.1 1065.0C913.0 1062.6 914.5 1054.1 917.5 1050.5C920.6 1046.9 928.1 1044.5 930.2 1043.3" fill="none" stroke-width="4"/><path d="M988.1 1051.4C991.2 1051.1 996.2 1053.4 998.0 1055.9C999.8 1058.5 1000.3 1063.5 998.9 1066.8C997.6 1070.1 993.0 1075.2 989.9 1075.8C986.7 1076.4 981.7 1073.4 979.9 1070.4C978.1 1067.4 977.7 1060.9 979.0 1057.8C980.4 1054.6 984.9 1051.7 988.1 1051.4Z" fill="none" stroke-width="2.5"/><path d="M988.1 1039.7C994.4 1037.6 1002.1 1041.8 1006.1 1045.1C1010.2 1048.4 1012.5 1054.7 1012.5 1059.6C1012.5 1064.4 1010.2 1069.5 1006.1 1074.0C1002.1 1078.6 993.8 1086.4 988.1 1086.7C982.3 1087.0 975.1 1080.7 971.8 1075.8C968.5 1071.0 965.5 1063.8 968.2 1057.8C970.9 1051.7 981.7 1041.8 988.1 1039.7Z" fill="none" stroke-width="3.5"/><path d="M986.3 1060.5C987.1 1059.1 990.7 1058.5 991.7 1059.6C992.6 1060.6 992.9 1065.5 992.0 1066.8C991.2 1068.1 987.6 1068.6 986.6 1067.5C985.7 1066.5 985.4 1061.8 986.3 1060.5Z" stroke="none"/><path d="M1020.6 1124.7C1023.9 1120.1 1034.2 1107.2 1040.5 1097.5C1046.8 1087.9 1053.5 1074.9 1058.6 1066.8C1063.7 1058.7 1069.1 1051.7 1071.2 1048.7" fill="none" stroke-width="3"/><path d="M1028.8 1122.9C1032.1 1118.2 1042.5 1104.5 1048.6 1094.8C1054.8 1085.2 1061.0 1072.7 1065.8 1065.0C1070.6 1057.3 1075.6 1051.4 1077.6 1048.7" fill="none" stroke-width="3"/><path d="M1036.9 1121.0C1040.2 1116.2 1050.8 1101.8 1056.8 1092.1C1062.8 1082.5 1068.5 1070.4 1073.1 1063.2C1077.6 1055.9 1082.1 1051.1 1083.9 1048.7" fill="none" stroke-width="3"/><path d="M1045.0 1119.2C1048.3 1114.3 1059.0 1099.0 1064.9 1089.4C1070.8 1079.8 1076.1 1068.2 1080.3 1061.4C1084.5 1054.6 1088.6 1050.8 1090.2 1048.7" fill="none" stroke-width="3"/><path d="M1074.9 1110.2C1076.7 1106.6 1082.1 1094.5 1085.7 1088.5C1089.3 1082.5 1092.9 1079.5 1096.6 1074.0C1100.2 1068.6 1105.6 1059.0 1107.4 1055.9" fill="none" stroke-width="5.5"/><path d="M1161.7 1039.7C1164.7 1041.2 1173.4 1046.0 1179.7 1048.7C1186.1 1051.4 1196.6 1054.7 1200.0 1055.9" fill="none" stroke-width="6"/></g>
<path d="M452.7 635.3 L477.1 591.9 L486.6 574.8 L561.2 540.4 L642.6 509.2 L724.0 483.4 L805.3 464.4 L859.6 456.3" fill="none" stroke="#6a6a6a" stroke-width="2.2"/><path d="M1430.5 455.7 L1471.2 459.0 L1525.5 467.1 L1593.3 479.3 L1661.1 494.2 L1724.0 512.7" fill="none" stroke="#8a8a8a" stroke-width="2"/>
</g></g><rect x="300.0" y="453.6" width="1488.0" height="892.8000000000001" fill="none" stroke="#000" stroke-width="4.17"/><path d="M300.30 1346.4v-16.67M300.30 453.6v16.67M597.90 1346.4v-16.67M597.90 453.6v16.67M895.50 1346.4v-16.67M895.50 453.6v16.67M1193.10 1346.4v-16.67M1193.10 453.6v16.67M1490.70 1346.4v-16.67M1490.70 453.6v16.67M300.0 453.90h16.67M1788.0 453.90h-16.67M300.0 572.94h16.67M1788.0 572.94h-16.67M300.0 691.98h16.67M1788.0 691.98h-16.67M300.0 811.02h16.67M1788.0 811.02h-16.67M300.0 930.06h16.67M1788.0 930.06h-16.67M300.0 1049.10h16.67M1788.0 1049.10h-16.67M300.0 1168.14h16.67M1788.0 1168.14h-16.67M300.0 1287.18h16.67M1788.0 1287.18h-16.67" stroke="#000" stroke-width="2.08" fill="none"/><text class="t" x="299.50" y="1398.77" text-anchor="middle">0</text><text class="t" x="597.10" y="1398.77" text-anchor="middle">500</text><text class="t" x="894.70" y="1398.77" text-anchor="middle">1000</text><text class="t" x="1192.30" y="1398.77" text-anchor="middle">1500</text><text class="t" x="1489.90" y="1398.77" text-anchor="middle">2000</text><text class="t" x="286.33" y="471.20" text-anchor="end">0</text><text class="t" x="286.33" y="590.24" text-anchor="end">200</text><text class="t" x="286.33" y="709.28" text-anchor="end">400</text><text class="t" x="286.33" y="828.32" text-anchor="end">600</text><text class="t" x="286.33" y="947.36" text-anchor="end">800</text><text class="t" x="286.33" y="1066.40" text-anchor="end">1000</text><text class="t" x="286.33" y="1185.44" text-anchor="end">1200</text><text class="t" x="286.33" y="1304.48" text-anchor="end">1400</text><text class="ti" x="1046" y="361.3" text-anchor="middle">Areas of mismatch data in</text><text class="ti" x="1046.2" y="431.9" text-anchor="middle">ABI_TBB_band07</text><text class="t" x="1045.3" y="1536" text-anchor="middle">Showing 955418 Mismatch Points in Green</text><defs><linearGradient id="cbg" x1="0" y1="0" x2="0" y2="1"><stop offset="0" stop-color="#323232"/><stop offset="1" stop-color="#ffffff"/></linearGradient></defs>
<rect x="1881.0" y="180.0" width="72.0" height="1440.0" fill="url(#cbg)" stroke="#000" stroke-width="4.17" stroke-linejoin="round"/><text class="t" x="1966.20" y="1439.30">225</text><text class="t" x="1966.20" y="1223.86">240</text><text class="t" x="1966.20" y="1008.42">255</text><text class="t" x="1966.20" y="792.98">270</text><text class="t" x="1966.20" y="577.54">285</text><text class="t" x="1966.20" y="362.10">300</text><path d="M1953.0 1421.90h-16.67M1953.0 1206.46h-16.67M1953.0 991.02h-16.67M1953.0 775.58h-16.67M1953.0 560.14h-16.67M1953.0 344.70h-16.67" stroke="#000" stroke-width="2.08" fill="none"/><text class="t" transform="translate(2116.3 900) rotate(-90)" text-anchor="middle">Kelvin</text></svg></body></html>
